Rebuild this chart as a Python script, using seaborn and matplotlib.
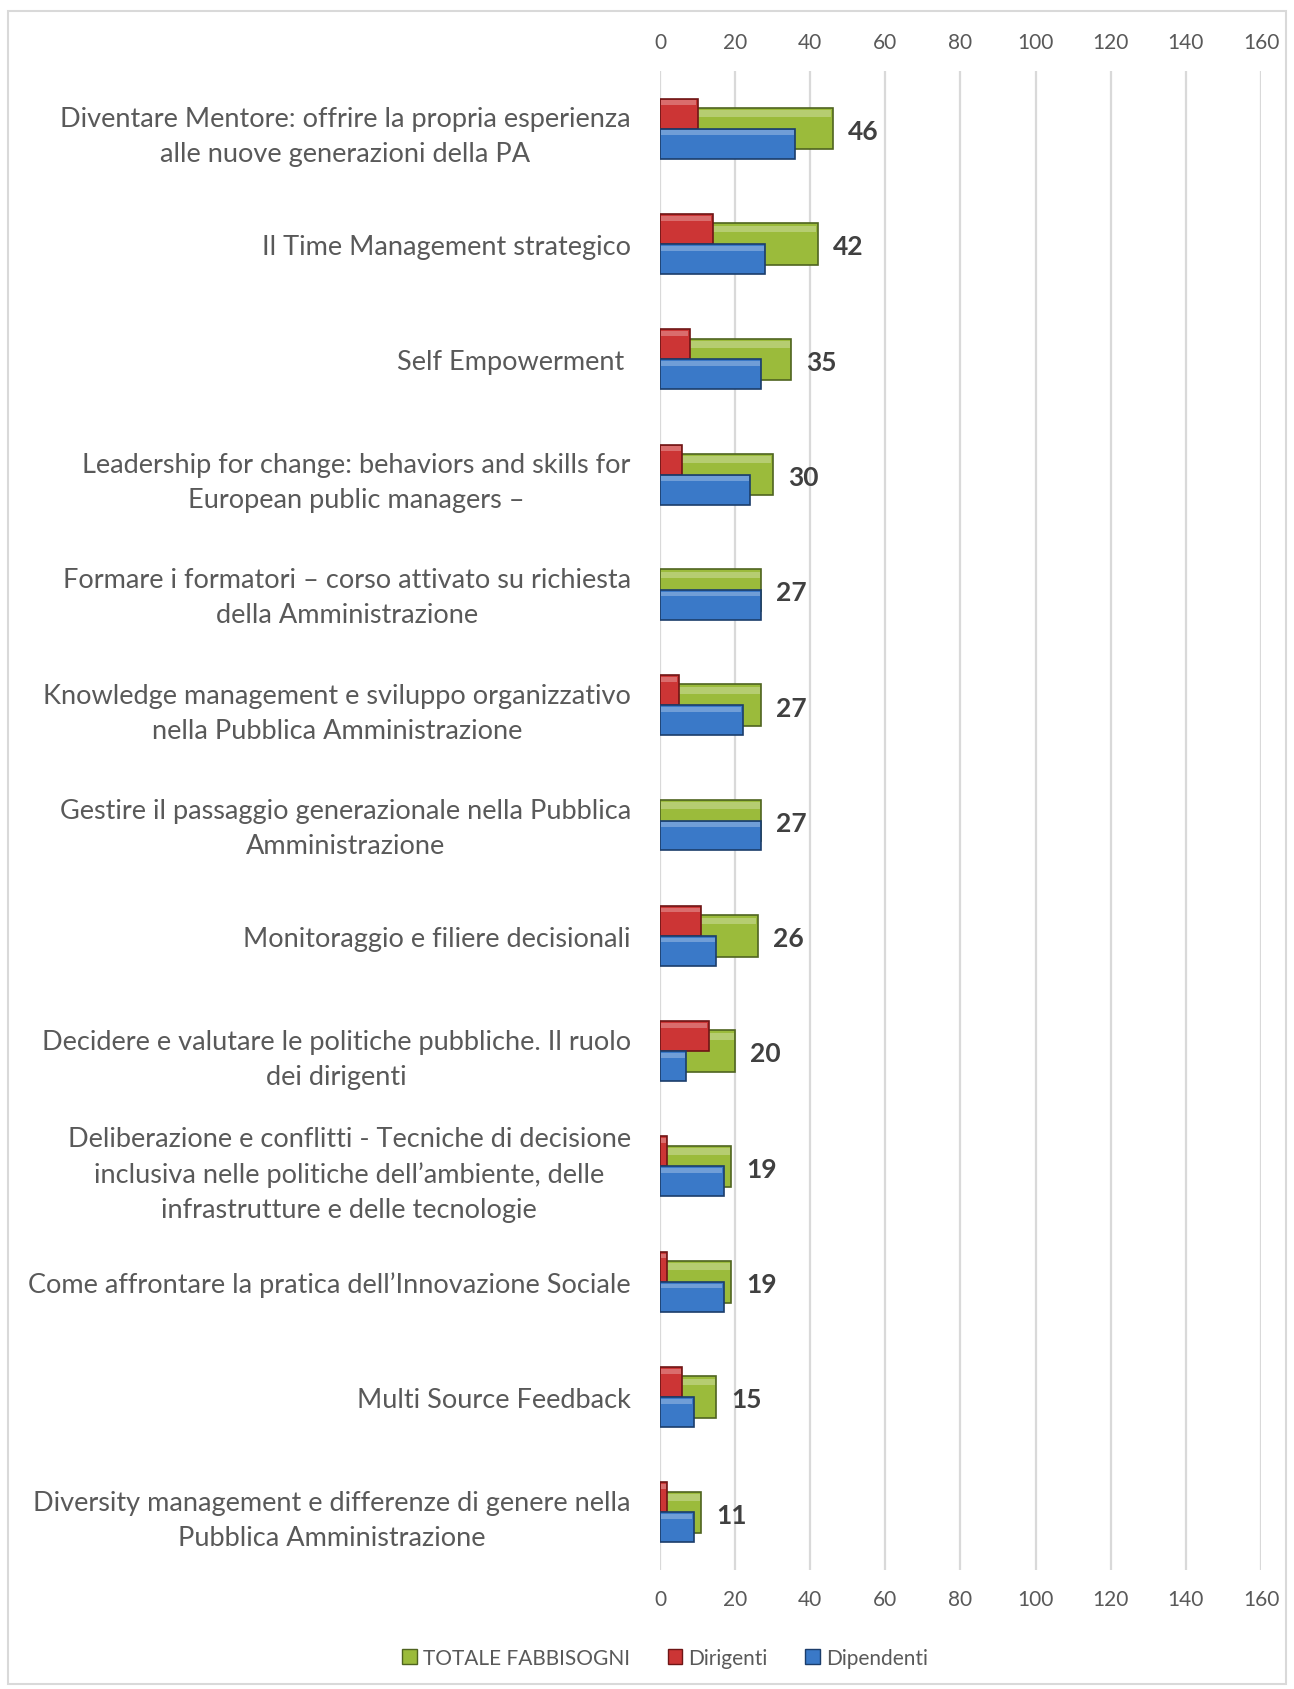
import matplotlib
matplotlib.use("Agg")
import matplotlib.pyplot as plt
from matplotlib.patches import Rectangle, Patch
import numpy as np
import pandas as pd
import seaborn as sns

# Course titles (wrapped as they appear on the axis)
courses = [
    "Diventare Mentore: offrire la propria esperienza\nalle nuove generazioni della PA",
    "Il Time Management strategico",
    "Self Empowerment ",
    "Leadership for change: behaviors and skills for\nEuropean public managers \u2013",
    "Formare i formatori \u2013 corso attivato su richiesta\ndella Amministrazione",
    "Knowledge management e sviluppo organizzativo\nnella Pubblica Amministrazione",
    "Gestire il passaggio generazionale nella Pubblica\nAmministrazione",
    "Monitoraggio e filiere decisionali",
    "Decidere e valutare le politiche pubbliche. Il ruolo\ndei dirigenti",
    "Deliberazione e conflitti - Tecniche di decisione\ninclusiva nelle politiche dell\u2019ambiente, delle\ninfrastrutture e delle tecnologie",
    "Come affrontare la pratica dell\u2019Innovazione Sociale",
    "Multi Source Feedback",
    "Diversity management e differenze di genere nella\nPubblica Amministrazione",
]

dirigenti = [10, 14, 8, 6, 0, 5, 0, 11, 13, 2, 2, 6, 2]
dipendenti = [36, 28, 27, 24, 27, 22, 27, 15, 7, 17, 17, 9, 9]
totale = [46, 42, 35, 30, 27, 27, 27, 26, 20, 19, 19, 15, 11]

x_ticks = [0, 20, 40, 60, 80, 100, 120, 140, 160]

series_names = ["TOTALE FABBISOGNI", "Dirigenti", "Dipendenti"]
green, red, blue = "#9bbb3b", "#cc3535", "#3a79c8"
green_edge, red_edge, blue_edge = "#4f6420", "#6e1515", "#1b3d6b"

df_tot = pd.DataFrame({"corso": courses, "valore": totale})
df_split = pd.DataFrame({
    "corso": courses * 2,
    "valore": dirigenti + dipendenti,
    "gruppo": ["Dirigenti"] * len(courses) + ["Dipendenti"] * len(courses),
})

sns.set_theme(style="white")
plt.rcParams["font.family"] = ["Lato", "DejaVu Sans"]
text_color = "#595959"

fig = plt.figure(figsize=(12.94, 16.90), dpi=100)
ax = fig.add_axes([0.510, 0.0704, 0.4645, 0.887])

# Total bar sits behind the two component bars
sns.barplot(data=df_tot, x="valore", y="corso", orient="h", order=courses,
            color=green, width=0.36, saturation=1, ax=ax,
            edgecolor=green_edge, linewidth=1.2, zorder=2)
sns.barplot(data=df_split, x="valore", y="corso", hue="gruppo", orient="h",
            order=courses, hue_order=["Dirigenti", "Dipendenti"],
            palette=[red, blue], width=0.52, dodge=True, saturation=1,
            ax=ax, legend=False, zorder=3)
for bar in ax.patches[len(courses):]:
    fc = bar.get_facecolor()
    bar.set_edgecolor(red_edge if np.allclose(fc[:3], matplotlib.colors.to_rgb(red)) else blue_edge)
    bar.set_linewidth(1.2 if bar.get_width() > 0 else 0)
    bar.set_zorder(3)

# Subtle top highlight on each bar for a bevelled look
for bar in list(ax.patches):
    w = bar.get_width()
    if w <= 0:
        continue
    x0, y0, h = bar.get_x(), bar.get_y(), bar.get_height()
    ax.add_patch(Rectangle((x0 + 0.4, y0 + h * 0.06), max(w - 0.8, 0), h * 0.16,
                           facecolor="white", alpha=0.28, linewidth=0,
                           zorder=bar.get_zorder() + 0.1))

# Value labels for the totals
for i, v in enumerate(totale):
    ax.text(v + 4, i + 0.02, str(v), ha="left", va="center", fontsize=19,
            fontweight="bold", color="#404040", zorder=4)

ax.set_xlim(0, 160)
ax.set_ylim(len(courses) - 0.5, -0.5)
ax.set_xticks(x_ticks)
ax.xaxis.grid(True, color="#d9d9d9", linewidth=1.6)
ax.set_axisbelow(True)
ax.tick_params(axis="x", length=0, pad=14, labelsize=15, labelcolor=text_color,
               top=True, labeltop=True, bottom=True, labelbottom=True)
ax.tick_params(axis="y", length=0, pad=21, labelsize=19.5, labelcolor=text_color)
for lab in ax.get_yticklabels():
    lab.set_multialignment("center")
    lab.set_linespacing(1.5)
ax.set_xlabel("")
ax.set_ylabel("")
for side in ["top", "right", "bottom", "left"]:
    ax.spines[side].set_visible(False)

handles = [
    Patch(facecolor=green, edgecolor=green_edge, label=series_names[0]),
    Patch(facecolor=red, edgecolor=red_edge, label=series_names[1]),
    Patch(facecolor=blue, edgecolor=blue_edge, label=series_names[2]),
]
fig.legend(handles=handles, loc="center", bbox_to_anchor=(0.514, 1 - 1659 / 1690),
           ncol=3, frameon=False, fontsize=15, labelcolor=text_color,
           handlelength=0.7, handleheight=0.7, handletextpad=0.3, columnspacing=1.8)

# Outer chart border
fig.add_artist(Rectangle((0.006, 0.003), 0.988, 0.990, transform=fig.transFigure,
                         fill=False, edgecolor="#d9d9d9", linewidth=1.5))

fig.savefig("out.png", dpi=100, facecolor="white")
